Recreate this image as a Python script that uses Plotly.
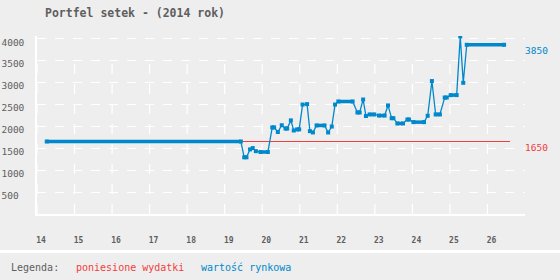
import plotly.graph_objects as go

# ---- data ----
weeks = [14.26, 19.43, 19.52, 19.58, 19.675, 19.747, 19.83, 19.955, 20.15, 20.267,
         20.317, 20.416, 20.52, 20.62, 20.664, 20.763, 20.84, 20.928, 20.984, 21.075,
         21.195, 21.27, 21.35, 21.448, 21.66, 21.755, 21.853, 21.94, 22.027, 22.408,
         22.536, 22.595, 22.688, 22.763, 22.861, 22.984, 23.11, 23.26, 23.35, 23.448,
         23.493, 23.6, 23.75, 23.867, 23.91, 24.027, 24.31, 24.408, 24.52, 24.62,
         24.733, 24.861, 24.915, 25.02, 25.18, 25.275, 25.355, 25.448, 26.443]
market_value = [1650, 1650, 1290, 1290, 1470, 1500, 1430, 1410, 1410, 1970,
                1970, 1865, 2020, 1945, 1945, 2130, 1900, 1925, 1925, 2490,
                2500, 1885, 1855, 2015, 2015, 1855, 1990, 2490, 2560, 2560,
                2310, 2310, 2605, 2230, 2265, 2265, 2240, 2240, 2470, 2180,
                2180, 2060, 2060, 2150, 2150, 2090, 2090, 2235, 3025, 2265,
                2265, 2650, 2650, 2705, 2705, 4040, 2985, 3850, 3850]
cost_weeks = [14.26, 26.6]
cost_values = [1650, 1650]
x_ticks = list(range(14, 27))
y_ticks = [500, 1000, 1500, 2000, 2500, 3000, 3500, 4000]

title = "Portfel setek - (2014 rok)"
legend_label = "Legenda:"
cost_name = "poniesione wydatki"
value_name = "wartość rynkowa"

BLUE = "#0088cc"
RED = "#ee4040"
GREY = "#5e5e5e"
BG = "#eeeeee"
FONT = "DejaVu Sans Mono"

W, H = 560, 280
ML, MR, MT, MB = 37, 35, 36, 66
PW, PH = W - ML - MR, H - MT - MB


def px2paper_x(px):
    return (px - ML) / PW


def px2paper_y(py):
    return (H - MB - py) / PH


# thick segments where consecutive values are equal (runs of overlapping markers)
tx, ty = [], []
for i in range(len(weeks) - 1):
    if market_value[i] == market_value[i + 1]:
        tx += [weeks[i], weeks[i + 1], None]
        ty += [market_value[i], market_value[i + 1], None]

fig = go.Figure()
fig.add_trace(go.Scatter(x=cost_weeks, y=cost_values, mode="lines",
                         line=dict(color=RED, width=1.2), name=cost_name,
                         hoverinfo="skip"))
fig.add_trace(go.Scatter(x=tx, y=ty, mode="lines",
                         line=dict(color=BLUE, width=3.5), hoverinfo="skip",
                         connectgaps=False))
fig.add_trace(go.Scatter(x=weeks, y=market_value, mode="lines+markers",
                         line=dict(color=BLUE, width=1.3),
                         marker=dict(symbol="square", size=4, color=BLUE,
                                     line=dict(width=0)),
                         name=value_name))

# vertical dashed grid lines (start below the top of the plot)
for t in x_ticks:
    fig.add_shape(type="line", xref="x", yref="y", x0=t, x1=t, y0=0, y1=3430,
                  line=dict(color="white", width=1.2, dash="10px,10px"),
                  layer="below")

# separator band above legend
fig.add_shape(type="rect", xref="paper", yref="paper",
              x0=px2paper_x(0), x1=px2paper_x(W),
              y0=px2paper_y(253), y1=px2paper_y(250),
              line=dict(width=0), fillcolor="white", layer="below")

ann = []
ann.append(dict(xref="paper", yref="y", x=1, y=market_value[-1], text=str(market_value[-1]),
                xanchor="left", yanchor="middle", xshift=-2, yshift=-6, showarrow=False,
                font=dict(family=FONT, size=9.5, color=BLUE)))
ann.append(dict(xref="paper", yref="y", x=1, y=cost_values[-1], text=str(cost_values[-1]),
                xanchor="left", yanchor="middle", xshift=-2, yshift=-6, showarrow=False,
                font=dict(family=FONT, size=9.5, color=RED)))
for txt, px, col in [(legend_label, 9, GREY), (cost_name, 74, RED), (value_name, 199, BLUE)]:
    ann.append(dict(xref="paper", yref="paper", x=px2paper_x(px), y=px2paper_y(267),
                    text=txt, xanchor="left", yanchor="middle", showarrow=False,
                    font=dict(family=FONT, size=10, color=col)))

fig.update_layout(
    width=W, height=H,
    margin=dict(l=ML, r=MR, t=MT, b=MB, pad=0, autoexpand=False),
    paper_bgcolor=BG, plot_bgcolor=BG,
    showlegend=False,
    title=dict(text=title, xref="container", yref="container",
               x=45 / W, y=1 - 12.5 / H, xanchor="left", yanchor="middle",
               font=dict(family=FONT, size=11.5, color=GREY, weight="bold")),
    annotations=ann,
    xaxis=dict(range=[14, 27], tickvals=x_ticks, showgrid=False, zeroline=False,
               automargin=False,
               showline=True, linecolor="white", linewidth=1.5, ticks="",
               tickfont=dict(family=FONT, size=8, color=GREY, weight="bold"),
               ticklabelshift=4, ticklabelstandoff=18),
    yaxis=dict(range=[0, 4050], tickvals=y_ticks, automargin=False,
               ticktext=[(str(v) + "\u00a0" * (4 - len(str(v)))) for v in y_ticks],
               showgrid=True, gridcolor="white", gridwidth=1, griddash="9px,9px",
               zeroline=False, showline=True, linecolor="white", linewidth=1.5,
               ticks="", tickfont=dict(family=FONT, size=9.5, color=GREY),
               ticklabelshift=4, ticklabelstandoff=9),
)

fig.write_html("out.html")
